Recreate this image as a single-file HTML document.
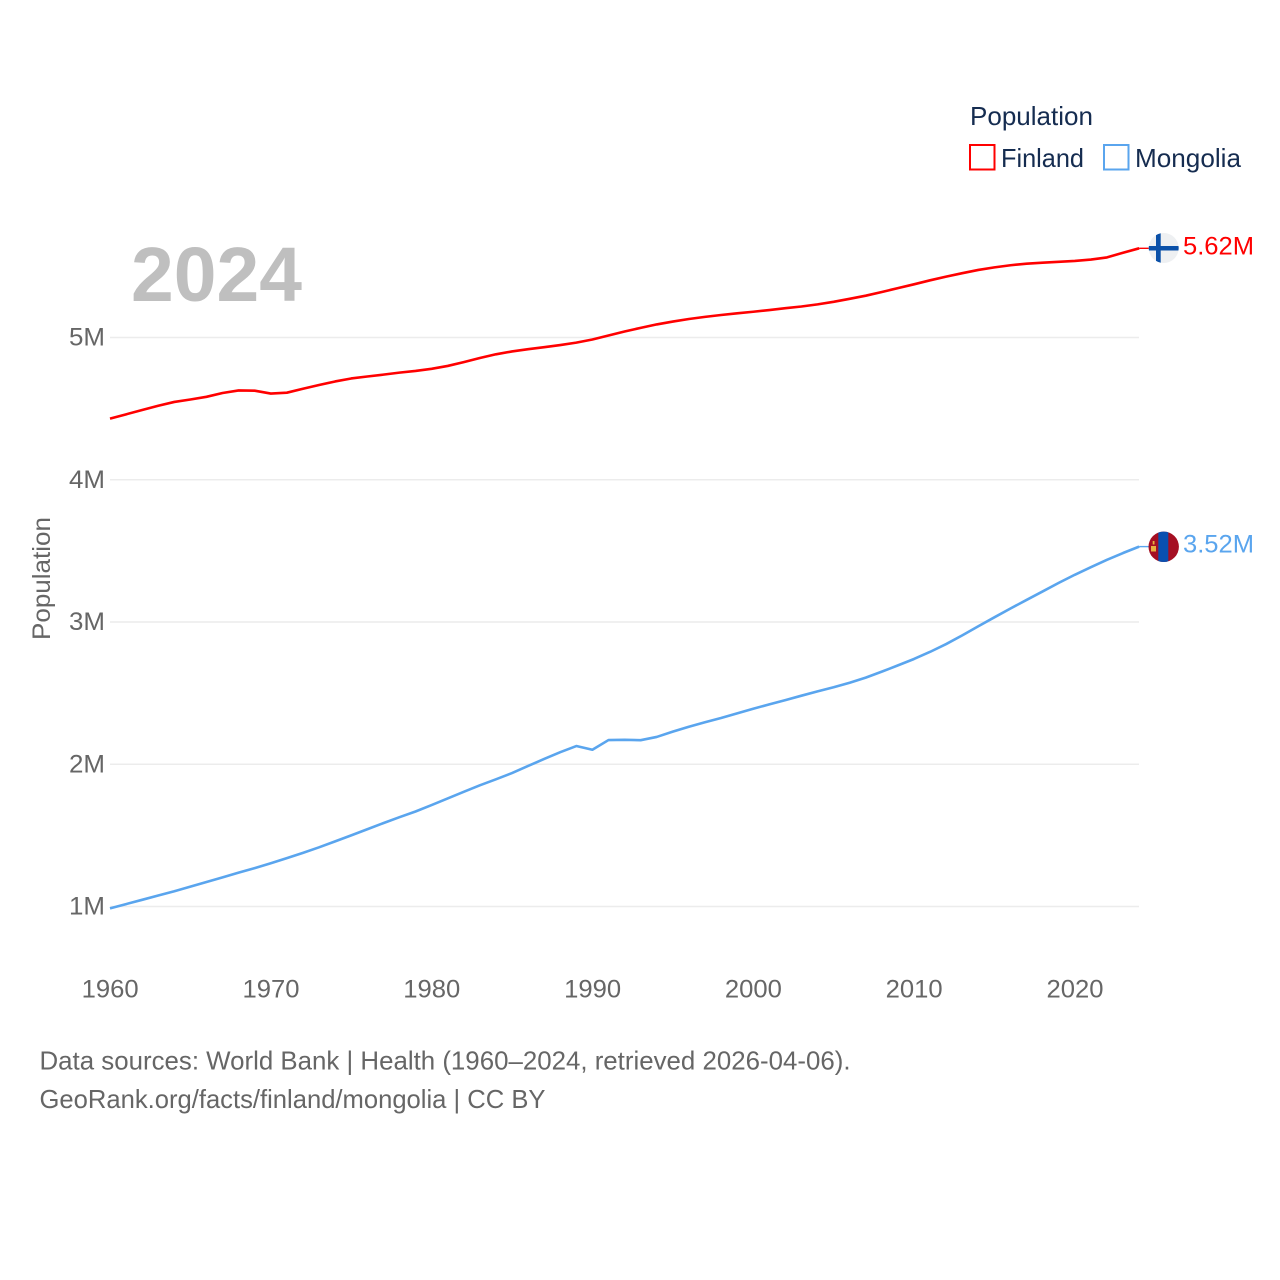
<!DOCTYPE html>
<html>
<head>
<meta charset="utf-8">
<style>
html,body{margin:0;padding:0;background:#fff}
svg{display:block}
text{font-family:"Liberation Sans",sans-serif}
</style>
</head>
<body>
<svg id="chart" width="1280" height="1280" viewBox="0 0 1280 1280" xmlns="http://www.w3.org/2000/svg">
  <defs>
    <clipPath id="flag-clip-fi"><circle cx="1163.7" cy="248" r="15"/></clipPath>
    <clipPath id="flag-clip-mn"><circle cx="1163.7" cy="546.8" r="15.2"/></clipPath>
  </defs>
  <rect width="1280" height="1280" fill="#fff"/>
  <g id="grid"></g>
  <g id="y-labels"></g>
  <g id="x-labels"></g>
  <text transform="translate(50,640) rotate(-90)" font-size="25" fill="#666" textLength="123" lengthAdjust="spacingAndGlyphs">Population</text>
  <text x="131" y="301" font-size="77" font-weight="700" fill="#bfbfbf" textLength="171" lengthAdjust="spacingAndGlyphs">2024</text>
  <path id="line-finland" fill="none" stroke="#ff0000" stroke-width="2.6" stroke-linejoin="round"/>
  <path id="line-mongolia" fill="none" stroke="#5aa5ee" stroke-width="2.6" stroke-linejoin="round"/>
  <path id="stub-finland" fill="none" stroke="#ff0000" stroke-width="1.4"/>
  <path id="stub-mongolia" fill="none" stroke="#5aa5ee" stroke-width="1.4"/>
  <g clip-path="url(#flag-clip-fi)">
    <rect x="1148" y="232" width="32" height="32" fill="#eef0f2"/>
    <rect x="1148" y="246" width="32" height="4.5" fill="#0a50a8"/>
    <rect x="1156" y="232" width="4.7" height="32" fill="#0a50a8"/>
  </g>
  <g clip-path="url(#flag-clip-mn)">
    <rect x="1148" y="531" width="32" height="32" fill="#a50f23"/>
    <rect x="1158.3" y="531" width="10" height="32" fill="#0a50b0"/>
    <rect x="1151" y="546" width="5" height="5.5" fill="#e8b040"/>
    <rect x="1152.7" y="541" width="1.8" height="3.5" fill="#e8b040"/>
  </g>
  <text x="1183" y="254.5" font-size="25" fill="#ff0000" textLength="71" lengthAdjust="spacingAndGlyphs">5.62M</text>
  <text x="1183" y="552.5" font-size="25" fill="#5aa5ee" textLength="71" lengthAdjust="spacingAndGlyphs">3.52M</text>
  <g>
    <text x="970" y="125" font-size="26" fill="#152c50" textLength="123" lengthAdjust="spacingAndGlyphs">Population</text>
    <g>
      <rect x="970" y="145" width="24.5" height="24.5" fill="#fff" stroke="#ff0000" stroke-width="2"/>
      <text x="1001" y="167" font-size="26" fill="#152c50" textLength="83" lengthAdjust="spacingAndGlyphs">Finland</text>
    </g>
    <g>
      <rect x="1104" y="145" width="24.5" height="24.5" fill="#fff" stroke="#5aa5ee" stroke-width="2"/>
      <text x="1135" y="167" font-size="26" fill="#152c50" textLength="106" lengthAdjust="spacingAndGlyphs">Mongolia</text>
    </g>
  </g>
  <text x="39.5" y="1069.5" font-size="26" fill="#666" textLength="811" lengthAdjust="spacingAndGlyphs">Data sources: World Bank | Health (1960–2024, retrieved 2026-04-06).</text>
  <text x="39.5" y="1108" font-size="26" fill="#666" textLength="506" lengthAdjust="spacingAndGlyphs">GeoRank.org/facts/finland/mongolia | CC BY</text>
</svg>
<script>
const startYear = 1960;
const finlandValues = [4.43,4.46,4.49,4.52,4.547,4.564,4.583,4.61,4.628,4.626,4.606,4.612,4.64,4.666,4.691,4.712,4.726,4.739,4.753,4.765,4.78,4.80,4.827,4.856,4.882,4.902,4.918,4.932,4.947,4.964,4.986,5.014,5.042,5.068,5.092,5.112,5.13,5.145,5.158,5.17,5.181,5.193,5.206,5.218,5.233,5.251,5.272,5.294,5.32,5.347,5.374,5.402,5.428,5.452,5.475,5.493,5.508,5.519,5.526,5.532,5.538,5.548,5.563,5.596,5.627];
const mongoliaValues = [0.987,1.017,1.047,1.077,1.107,1.14,1.172,1.205,1.238,1.27,1.304,1.34,1.377,1.416,1.458,1.5,1.543,1.586,1.628,1.668,1.713,1.76,1.806,1.852,1.894,1.938,1.988,2.037,2.085,2.128,2.102,2.17,2.172,2.169,2.192,2.229,2.264,2.295,2.325,2.358,2.39,2.421,2.451,2.482,2.512,2.541,2.573,2.609,2.651,2.695,2.74,2.79,2.845,2.906,2.97,3.033,3.095,3.155,3.215,3.275,3.332,3.385,3.437,3.485,3.53];
const yTicks = [1,2,3,4,5];
const yTickLabels = ["1M","2M","3M","4M","5M"];
const xTicks = [1960,1970,1980,1990,2000,2010,2020];

const NS = "http://www.w3.org/2000/svg";
function xScale(year){ return 110 + (year - 1960) * 16.08; }
function yScale(v){ return 1048.75 - v * 142.25; }
function linePath(values){
  return values.map(function(v,i){
    return (i ? "L" : "M") + xScale(startYear + i).toFixed(2) + " " + yScale(v).toFixed(2);
  }).join(" ");
}
document.getElementById("line-finland").setAttribute("d", linePath(finlandValues));
document.getElementById("line-mongolia").setAttribute("d", linePath(mongoliaValues));

const lastX = xScale(startYear + finlandValues.length - 1);
const lastFi = yScale(finlandValues[finlandValues.length - 1]);
const lastMn = yScale(mongoliaValues[mongoliaValues.length - 1]);
document.getElementById("stub-finland").setAttribute("d", "M" + lastX + " " + lastFi + " L1150 " + lastFi);
document.getElementById("stub-mongolia").setAttribute("d", "M" + lastX + " " + lastMn + " L1150 " + lastMn);

const gridGroup = document.getElementById("grid");
const yGroup = document.getElementById("y-labels");
yTicks.forEach(function(t,i){
  const l = document.createElementNS(NS,"line");
  
  
  l.setAttribute("x1", 110);
  l.setAttribute("x2", 1139);
  l.setAttribute("y1", yScale(t));
  l.setAttribute("y2", yScale(t));
  l.setAttribute("stroke", "#ececec");
  l.setAttribute("stroke-width", "1.6");
  gridGroup.appendChild(l);
  const s = document.createElementNS(NS,"text");
  
  
  s.setAttribute("x", 69);
  s.setAttribute("y", yScale(t) + 8);
  s.setAttribute("font-size", "25");
  s.setAttribute("fill", "#666");
  s.setAttribute("textLength", "36");
  s.setAttribute("lengthAdjust", "spacingAndGlyphs");
  s.textContent = yTickLabels[i];
  yGroup.appendChild(s);
});
const xGroup = document.getElementById("x-labels");
xTicks.forEach(function(t){
  const s = document.createElementNS(NS,"text");
  
  
  s.setAttribute("x", xScale(t) - 28.3);
  s.setAttribute("y", 997.5);
  s.setAttribute("font-size", "25");
  s.setAttribute("fill", "#666");
  s.setAttribute("textLength", "57");
  s.setAttribute("lengthAdjust", "spacingAndGlyphs");
  s.textContent = t;
  xGroup.appendChild(s);
});
</script>
</body>
</html>
